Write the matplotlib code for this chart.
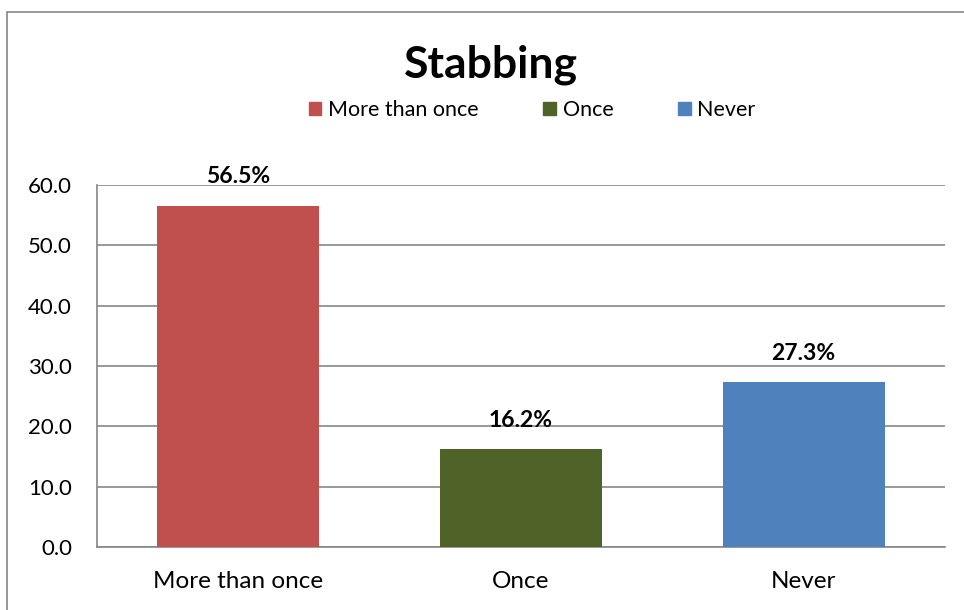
import matplotlib.pyplot as plt
from matplotlib.patches import Rectangle, Patch

categories = ['More than once', 'Once', 'Never']
values = [56.5, 16.2, 27.3]
labels = ['56.5%', '16.2%', '27.3%']
colors = ['#C0504D', '#4F6228', '#4F81BD']

plt.rcParams['font.family'] = ['Lato', 'DejaVu Sans']

fig = plt.figure(figsize=(9.64, 6.10), dpi=100)
ax = fig.add_axes([97 / 964, 1 - 547 / 610, (945 - 97) / 964, (547 - 185) / 610])

# outer chart border (cut off on right and bottom like the reference)
fig.patches.append(Rectangle((7 / 964, -0.1), 1.2, 1 - 12 / 610 + 0.1,
                             transform=fig.transFigure, fill=False,
                             edgecolor='#868686', linewidth=1.2))

x = range(len(categories))
ax.bar(x, values, width=0.573, color=colors, zorder=3)
for i, v in enumerate(values):
    ax.annotate(labels[i], (i, v), xytext=(0, 21), textcoords='offset points',
                ha='center', va='center', fontsize=16.5, fontweight='bold')

ax.set_xlim(-0.5, 2.5)
ax.set_ylim(0, 60)
ax.set_yticks(range(0, 61, 10))
ax.set_yticklabels(['%.1f' % t for t in range(0, 61, 10)], fontsize=16)
ax.set_xticks(list(x))
ax.set_xticklabels(categories, fontsize=17.5)
ax.tick_params(axis='y', length=0, pad=18)
ax.tick_params(axis='x', length=0, pad=17)
ax.grid(axis='y', color='#868686', linewidth=1.2, zorder=0)
for s in ['top', 'right']:
    ax.spines[s].set_visible(False)
for s in ['left', 'bottom']:
    ax.spines[s].set_color('#868686')
    ax.spines[s].set_linewidth(1.2)

fig.text(491 / 964, 1 - 65 / 610, 'Stabbing', ha='center', va='center',
         fontsize=32, fontweight='bold')
handles = [Patch(color=c) for c in colors]
fig.legend(handles, categories, loc='center', bbox_to_anchor=(532 / 964, 1 - 110 / 610),
           ncol=3, frameon=False, fontsize=15.5, handlelength=0.6, handleheight=0.6,
           handletextpad=0.3, columnspacing=3.0)

fig.savefig('out.png', dpi=100)
